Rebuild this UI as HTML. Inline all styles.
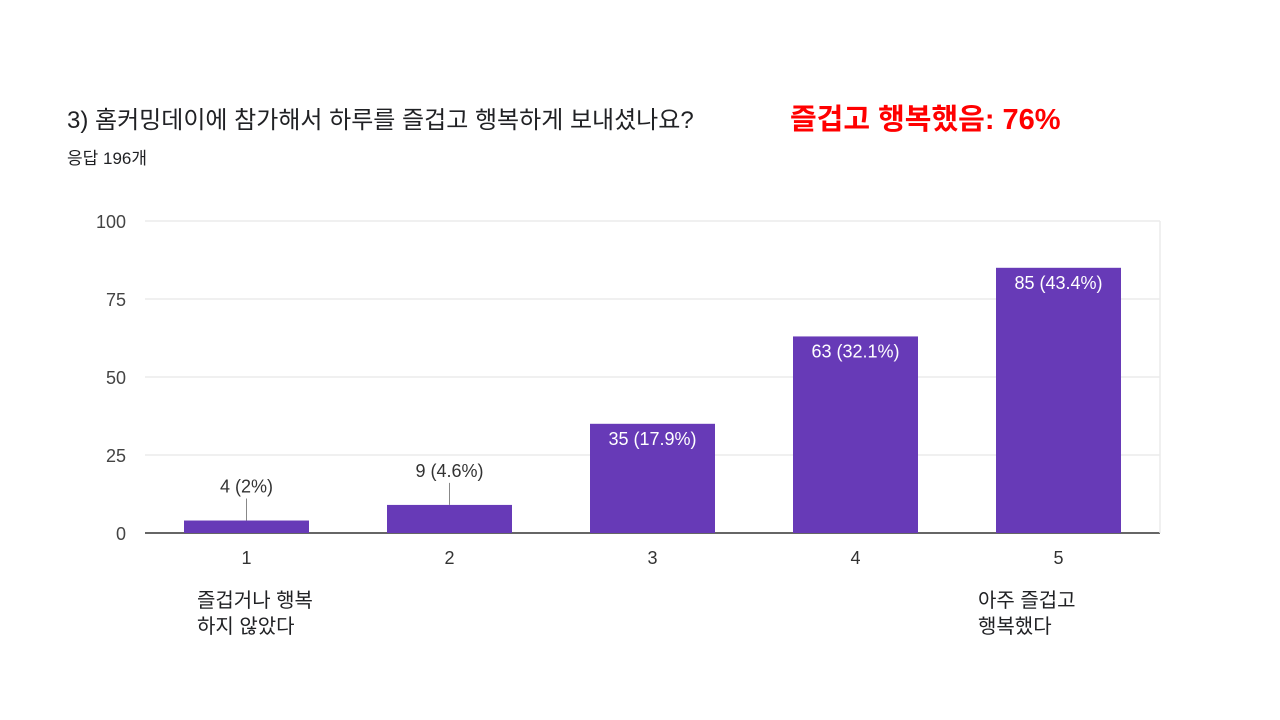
<!DOCTYPE html>
<html><head><meta charset="utf-8"><style>
body{margin:0;background:#fff;width:1280px;height:720px;overflow:hidden;font-family:"Liberation Sans","Noto Sans CJK KR",sans-serif}
.t{position:absolute;white-space:nowrap;color:#202124}
</style></head><body>
<div class="t" style="left:67px;top:100px;font-size:24px">3) 홈커밍데이에 참가해서 하루를 즐겁고 행복하게 보내셨나요?</div>
<div class="t" style="left:790px;top:96px;font-size:29px;font-weight:bold;color:#ff0000">즐겁고 행복했음: 76%</div>
<div class="t" style="left:67px;top:144px;font-size:17px">응답 196개</div>
<div class="t" style="left:197px;top:588px;font-size:20px;line-height:26px">즐겁거나 행복<br>하지 않았다</div>
<div class="t" style="left:978px;top:588px;font-size:20px;line-height:26px">아주 즐겁고<br>행복했다</div>
<svg id="chart" width="1280" height="720" style="position:absolute;left:0;top:0"></svg>
<script>
const categories=["1","2","3","4","5"];
const values=[4,9,35,63,85];
const valueLabels=["4 (2%)","9 (4.6%)","35 (17.9%)","63 (32.1%)","85 (43.4%)"];
const yTicks=[0,25,50,75,100];
const svg=document.getElementById('chart');
const NS='http://www.w3.org/2000/svg';
const L=145,R=1160,T=221,B=533,YMAX=100;
const y=v=>B-(v/YMAX)*(B-T);
const band=(R-L)/categories.length;
const x=i=>L+band*(i+0.5);
const bw=125;
function mk(tag,a){const e=document.createElementNS(NS,tag);for(const k in a)e.setAttribute(k,a[k]);svg.appendChild(e);return e;}
yTicks.forEach(t=>{
 const g=mk('line',{x1:L,x2:R,y1:y(t),y2:y(t),stroke:t===0?'#333':'#ebebeb','stroke-width':t===0?1.5:1.5});
 
 
 const tx=mk('text',{x:126,y:y(t)+7,'text-anchor':'end','font-size':18,fill:'#444','font-family':'Liberation Sans, sans-serif'});
 tx.textContent=t;
 
 
});
mk('line',{x1:R,x2:R,y1:T,y2:B,stroke:'#ebebeb','stroke-width':1.5});
categories.forEach((c,i)=>{
 const h=B-y(values[i]);
 const r=mk('rect',{x:x(i)-bw/2,y:y(values[i]),width:bw,height:h,fill:'#673ab7'});
 
 
 const inside=h>30;
 let ly;
 if(inside){ly=y(values[i])+21;}else{
  ly=y(values[i])-28;
  mk('line',{x1:x(i),x2:x(i),y1:ly+6,y2:y(values[i]),stroke:'#888','stroke-width':1});
 }
 const lt=mk('text',{x:x(i),y:ly,'text-anchor':'middle','font-size':18,fill:inside?'#fff':'#333','font-family':'Liberation Sans, sans-serif'});
 lt.textContent=valueLabels[i];
 
 
 const xt=mk('text',{x:x(i),y:B+31,'text-anchor':'middle','font-size':18,fill:'#333','font-family':'Liberation Sans, sans-serif'});
 xt.textContent=c;
 
 
});
</script>
</body></html>
